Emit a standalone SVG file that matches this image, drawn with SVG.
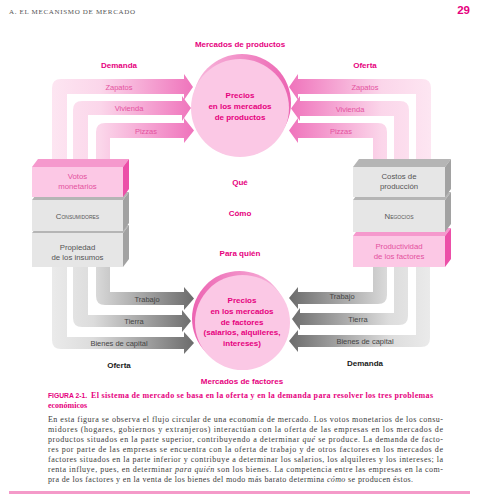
<svg xmlns="http://www.w3.org/2000/svg" width="479" height="498" viewBox="0 0 479 498">
<style>
.sans{font-family:"Liberation Sans",Arial,sans-serif}
.serif{font-family:"Liberation Serif","Times New Roman",serif}
.hd{font-family:"Liberation Sans",Arial,sans-serif;font-weight:bold;font-size:8px;fill:#e6007e;text-anchor:middle}
.blk{font-family:"Liberation Sans",Arial,sans-serif;font-weight:bold;font-size:8px;fill:#1a1a1a;text-anchor:middle}
.alab{font-family:"Liberation Sans",Arial,sans-serif;font-size:7.5px;fill:#e4529f;text-anchor:middle}
.glab{font-family:"Liberation Sans",Arial,sans-serif;font-size:7.5px;fill:#444;text-anchor:middle}
.btxt{font-family:"Liberation Sans",Arial,sans-serif;font-size:7.8px;fill:#555;text-anchor:middle}
.ptxt{font-family:"Liberation Sans",Arial,sans-serif;font-size:7.8px;fill:#e4529f;text-anchor:middle}
.gfront{fill:#e6e6e6}.gtop{fill:#b5b5b5}.gside{fill:#a2a2a2}
.pfront{fill:#fcc8e5}.ptop{fill:#f599cd}.pside{fill:#ec4fa8}
.body{font-family:"Liberation Serif","Times New Roman",serif;font-size:8px;fill:#3a3a3a}
</style>
<defs>
<linearGradient id="pinkL" gradientUnits="userSpaceOnUse" x1="50" y1="0" x2="195" y2="0">
<stop offset="0" stop-color="#fde6f2"/><stop offset="0.35" stop-color="#fbd6ea"/><stop offset="1" stop-color="#ef72bb"/>
</linearGradient>
<linearGradient id="pinkR" gradientUnits="userSpaceOnUse" x1="432" y1="0" x2="288" y2="0">
<stop offset="0" stop-color="#fde6f2"/><stop offset="0.35" stop-color="#fbd6ea"/><stop offset="1" stop-color="#ef72bb"/>
</linearGradient>
<linearGradient id="grayL" gradientUnits="userSpaceOnUse" x1="50" y1="0" x2="195" y2="0">
<stop offset="0" stop-color="#ebebeb"/><stop offset="0.3" stop-color="#dcdcdc"/><stop offset="1" stop-color="#6a6a6a"/>
</linearGradient>
<linearGradient id="grayR" gradientUnits="userSpaceOnUse" x1="432" y1="0" x2="288" y2="0">
<stop offset="0" stop-color="#ebebeb"/><stop offset="0.3" stop-color="#dcdcdc"/><stop offset="1" stop-color="#6a6a6a"/>
</linearGradient>
<linearGradient id="rim" x1="0" y1="0" x2="1" y2="0">
<stop offset="0" stop-color="#f8b9dd"/><stop offset="1" stop-color="#ec64b2"/>
</linearGradient>
<linearGradient id="rim2" x1="1" y1="0" x2="0" y2="0">
<stop offset="0" stop-color="#f8b9dd"/><stop offset="1" stop-color="#ec64b2"/>
</linearGradient>
</defs>

<rect width="479" height="498" fill="#fff"/>

<!-- page header -->
<text class="serif" x="9" y="14" font-size="7" fill="#555" textLength="126" lengthAdjust="spacing">A. EL MECANISMO DE MERCADO</text>
<text class="sans" x="470" y="14" font-size="11.5" font-weight="bold" fill="#e6007e" text-anchor="end">29</text>

<!-- top circle -->
<g id="precios-productos">
<circle cx="242" cy="103" r="49" fill="url(#rim)"/>
<circle cx="240" cy="108" r="49" fill="#fbc8e5"/>
<text class="hd" x="240" y="98">Precios</text>
<text class="hd" x="240" y="109">en los mercados</text>
<text class="hd" x="240" y="120">de productos</text>
</g>

<!-- bottom circle -->
<g id="precios-factores">
<circle cx="239.5" cy="318.5" r="47.5" fill="url(#rim2)"/>
<circle cx="242.5" cy="322.5" r="47.5" fill="#fbc8e5"/>
<text class="hd" x="242" y="303">Precios</text>
<text class="hd" x="242" y="314">en los mercados</text>
<text class="hd" x="242" y="324.5">de factores</text>
<text class="hd" x="242" y="335">(salarios, alquileres,</text>
<text class="hd" x="242" y="345.5">intereses)</text>
</g>

<!-- labels -->
<g id="labels">
<text class="hd" x="240" y="47">Mercados de productos</text>
<text class="hd" x="242" y="384">Mercados de factores</text>
<text class="hd" x="119" y="68">Demanda</text>
<text class="hd" x="365" y="68">Oferta</text>
<text class="hd" x="240" y="185">Qué</text>
<text class="hd" x="240" y="216">Cómo</text>
<text class="hd" x="240" y="256">Para quién</text>
<text class="blk" x="119" y="368">Oferta</text>
<text class="blk" x="365" y="366">Demanda</text>
</g>

<!-- connectors -->
<g id="connectors">
<path fill="url(#pinkL)" d="M52,163 L52,88 Q52,79 61,79 L184,79 L184,74 L193,87 L184,100 L184,94 L67,94 L67,163 Z"/>
<path fill="url(#pinkL)" d="M73,163 L73,110 Q73,101 82,101 L182,101 L182,96 L191,108 L182,121 L182,115 L88,115 L88,163 Z"/>
<path fill="url(#pinkL)" d="M96,163 L96,132 Q96,123 105,123 L184,123 L184,118 L194,130.5 L184,143 L184,138 L110,138 L110,163 Z"/>
<path fill="url(#pinkR)" d="M431,163 L431,88 Q431,79 422,79 L298,79 L298,74 L289,87 L298,100 L298,94 L416,94 L416,163 Z"/>
<path fill="url(#pinkR)" d="M409,163 L409,110 Q409,101 400,101 L300,101 L300,96 L291,108.5 L300,121 L300,116 L394,116 L394,163 Z"/>
<path fill="url(#pinkR)" d="M387,163 L387,132 Q387,123 378,123 L298,123 L298,118 L289,130.5 L298,143 L298,138 L373,138 L373,163 Z"/>
<path fill="url(#grayL)" d="M96,264 L96,296 Q96,305 105,305 L184,305 L184,310 L194,298.5 L184,287 L184,292 L110,292 L110,264 Z"/>
<path fill="url(#grayL)" d="M73,264 L73,318 Q73,327 82,327 L182,327 L182,332 L191,321 L182,310 L182,315 L88,315 L88,264 Z"/>
<path fill="url(#grayL)" d="M52,264 L52,340 Q52,349 61,349 L184,349 L184,354 L194,343 L184,332 L184,337 L67,337 L67,264 Z"/>
<path fill="url(#grayR)" d="M387,264 L387,295 Q387,304 378,304 L298,304 L298,309 L289,298 L298,287 L298,292 L373,292 L373,264 Z"/>
<path fill="url(#grayR)" d="M408,264 L408,316 Q408,325 399,325 L300,325 L300,330 L292,319 L300,308 L300,313 L394,313 L394,264 Z"/>
<path fill="url(#grayR)" d="M430,264 L430,338 Q430,347 421,347 L298,347 L298,352 L289,341 L298,330 L298,335 L416,335 L416,264 Z"/>
<text class="alab" x="119" y="90">Zapatos</text>
<text class="alab" x="129" y="111">Vivienda</text>
<text class="alab" x="146" y="133.5">Pizzas</text>
<text class="alab" x="365" y="90">Zapatos</text>
<text class="alab" x="350" y="112">Vivienda</text>
<text class="alab" x="341" y="134">Pizzas</text>
<text class="glab" x="147" y="302">Trabajo</text>
<text class="glab" x="134" y="324">Tierra</text>
<text class="glab" x="119" y="346">Bienes de capital</text>
<text class="glab" x="342" y="299">Trabajo</text>
<text class="glab" x="358" y="322">Tierra</text>
<text class="glab" x="365" y="344">Bienes de capital</text>
</g>

<!-- left blocks -->
<g id="propiedad-insumos">
<polygon class="gtop" points="32,233 38,225 129,225 123,233"/>
<polygon class="gside" points="123,233 129,225 129,259 123,267"/>
<rect class="gfront" x="32" y="233" width="91" height="34"/>
<text class="btxt" x="77.5" y="250">Propiedad</text>
<text class="btxt" x="77.5" y="260">de los insumos</text>
</g>
<g id="consumidores">
<polygon class="gtop" points="32,200 38,192 129,192 123,200"/>
<polygon class="gside" points="123,200 129,192 129,223 123,231"/>
<rect class="gfront" x="32" y="200" width="91" height="31"/>
<text class="btxt" x="77.5" y="219" font-variant="small-caps">Consumidores</text>
</g>
<g id="votos-monetarios">
<polygon class="ptop" points="32,167 38,159 129,159 123,167"/>
<polygon class="pside" points="123,167 129,159 129,189 123,197"/>
<rect class="pfront" x="32" y="167" width="91" height="30"/>
<text class="ptxt" x="77.5" y="179">Votos</text>
<text class="ptxt" x="77.5" y="189">monetarios</text>
</g>

<!-- right blocks -->
<g id="productividad-factores">
<polygon class="ptop" points="353,236 359,228 451,228 445,236"/>
<polygon class="pside" points="445,236 451,228 451,259 445,267"/>
<rect class="pfront" x="353" y="236" width="92" height="31"/>
<text class="ptxt" x="399" y="249">Productividad</text>
<text class="ptxt" x="399" y="259">de los factores</text>
</g>
<g id="negocios">
<polygon class="gtop" points="353,200 359,192 451,192 445,200"/>
<polygon class="gside" points="445,200 451,192 451,224 445,232"/>
<rect class="gfront" x="353" y="200" width="92" height="32"/>
<text class="btxt" x="399" y="219" font-variant="small-caps">Negocios</text>
</g>
<g id="costos-produccion">
<polygon class="gtop" points="353,167 359,159 451,159 445,167"/>
<polygon class="gside" points="445,167 451,159 451,189 445,197"/>
<rect class="gfront" x="353" y="167" width="92" height="30"/>
<text class="btxt" x="399" y="179">Costos de</text>
<text class="btxt" x="399" y="189">producción</text>
</g>

<!-- caption -->
<g id="caption">
<text class="sans" x="48" y="398" font-size="8" font-weight="bold" fill="#e6007e" textLength="39" lengthAdjust="spacingAndGlyphs">FIGURA 2-1.</text>
<text class="serif" x="91" y="398" font-size="8" font-weight="bold" fill="#e6007e" textLength="342" lengthAdjust="spacing">El sistema de mercado se basa en la oferta y en la demanda para resolver los tres problemas</text>
<text class="serif" x="48" y="408" font-size="8" font-weight="bold" fill="#e6007e">económicos</text>
<text class="body" x="48" y="422" textLength="395" lengthAdjust="spacing">En esta figura se observa el flujo circular de una economía de mercado. Los votos monetarios de los consu-</text>
<text class="body" x="48" y="432" textLength="395" lengthAdjust="spacing">midores (hogares, gobiernos y extranjeros) interactúan con la oferta de las empresas en los mercados de</text>
<text class="body" x="48" y="442" textLength="395" lengthAdjust="spacing">productos situados en la parte superior, contribuyendo a determinar <tspan font-style="italic">qué</tspan> se produce. La demanda de facto-</text>
<text class="body" x="48" y="452" textLength="395" lengthAdjust="spacing">res por parte de las empresas se encuentra con la oferta de trabajo y de otros factores en los mercados de</text>
<text class="body" x="48" y="462" textLength="395" lengthAdjust="spacing">factores situados en la parte inferior y contribuye a determinar los salarios, los alquileres y los intereses; la</text>
<text class="body" x="48" y="472" textLength="395" lengthAdjust="spacing">renta influye, pues, en determinar <tspan font-style="italic">para quién</tspan> son los bienes. La competencia entre las empresas en la com-</text>
<text class="body" x="48" y="482" textLength="365" lengthAdjust="spacing">pra de los factores y en la venta de los bienes del modo más barato determina <tspan font-style="italic">cómo</tspan> se producen éstos.</text>
<rect x="9" y="491" width="461" height="3" fill="#f49ac9"/>
</g>
</svg>
